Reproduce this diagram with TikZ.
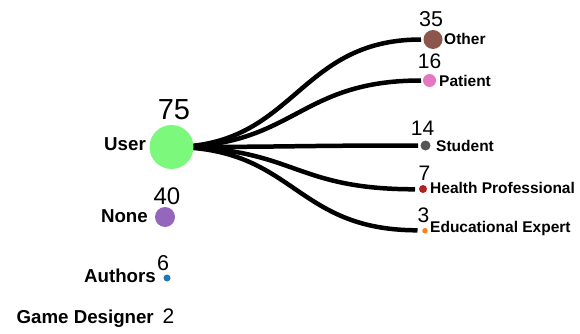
\documentclass[tikz,border=0pt]{standalone}
\usepackage{fontspec}
\setmainfont{Liberation Sans}
\begin{document}
\begin{tikzpicture}[x=1pt,y=-1pt,
  dot/.style={circle,inner sep=0pt,draw=none},
  link/.style={line width=4.5pt,black},
  leftlbl/.style={font=\bfseries\fontsize{18.7}{20}\selectfont,inner sep=0pt,anchor=base east},
  rightlbl/.style={font=\bfseries\fontsize{15.5}{17}\selectfont,inner sep=0pt,anchor=base west},
  count/.style={font=\fontsize{21}{22}\selectfont,inner sep=0pt,anchor=base}]
\definecolor{cUser}{RGB}{124,248,124}
\definecolor{cNone}{HTML}{9467BD}
\definecolor{cAuthors}{HTML}{1F77B4}
\definecolor{cOther}{HTML}{8C564B}
\definecolor{cPatient}{HTML}{E377C2}
\definecolor{cStudent}{HTML}{555555}
\definecolor{cHealth}{HTML}{B22222}
\definecolor{cEdu}{HTML}{FF7F0E}
\useasboundingbox (0,0) rectangle (580,334);

% link anchors
\coordinate (src) at (171.5,147);
\coordinate (tOther) at (421,39.5);
\coordinate (tPatient) at (421,80.5);
\coordinate (tStudent) at (418,145.5);
\coordinate (tHealth) at (415,189.3);
\coordinate (tEdu) at (417.5,230.3);

% links from User to its children
\foreach \t in {tOther,tPatient,tStudent,tHealth,tEdu}
  \draw[link] (src) .. controls +(124,0) and +(-124,0) .. (\t);

% left column
\node[dot,fill=cUser,minimum size=44pt] (user) at (src) {};
\node[leftlbl] (userL) at (146,150) {User};
\node[count,font=\fontsize{29}{30}\selectfont] (userN) at (174,120) {75};

\node[dot,fill=cNone,minimum size=20pt] (none) at (165,217) {};
\node[leftlbl] (noneL) at (148,222) {None};
\node[count,font=\fontsize{24}{25}\selectfont] (noneN) at (167,204) {40};

\node[dot,fill=cAuthors,minimum size=7pt] (authors) at (167,278) {};
\node[leftlbl] (authorsL) at (156,282) {Authors};
\node[count,font=\fontsize{21.5}{22}\selectfont] (authorsN) at (163,270) {6};

\node[leftlbl] (gdL) at (154,323) {Game Designer};
\node[count] (gdN) at (168.5,323) {2};

% right column
\node[dot,fill=cOther,minimum size=19pt] (other) at (433,39.5) {};
\node[rightlbl] (otherL) at (444,45) {Other};
\node[count,font=\fontsize{21.5}{22}\selectfont] (otherN) at (431,27) {35};

\node[dot,fill=cPatient,minimum size=13pt] (patient) at (429.5,80.5) {};
\node[rightlbl] (patientL) at (439,87) {Patient};
\node[count] (patientN) at (429.5,69) {16};

\node[dot,fill=cStudent,minimum size=10pt] (student) at (425.5,145.5) {};
\node[rightlbl] (studentL) at (436,151) {Student};
\node[count] (studentN) at (422.5,135) {14};

\node[dot,fill=cHealth,minimum size=8pt] (health) at (423,189) {};
\node[rightlbl] (healthL) at (430,193) {Health Professional};
\node[count] (healthN) at (424.5,180) {7};

\node[dot,fill=cEdu,minimum size=5.4pt] (edu) at (425,230.7) {};
\node[rightlbl] (eduL) at (430,232) {Educational Expert};
\node[count] (eduN) at (423.5,222) {3};
\end{tikzpicture}
\end{document}
